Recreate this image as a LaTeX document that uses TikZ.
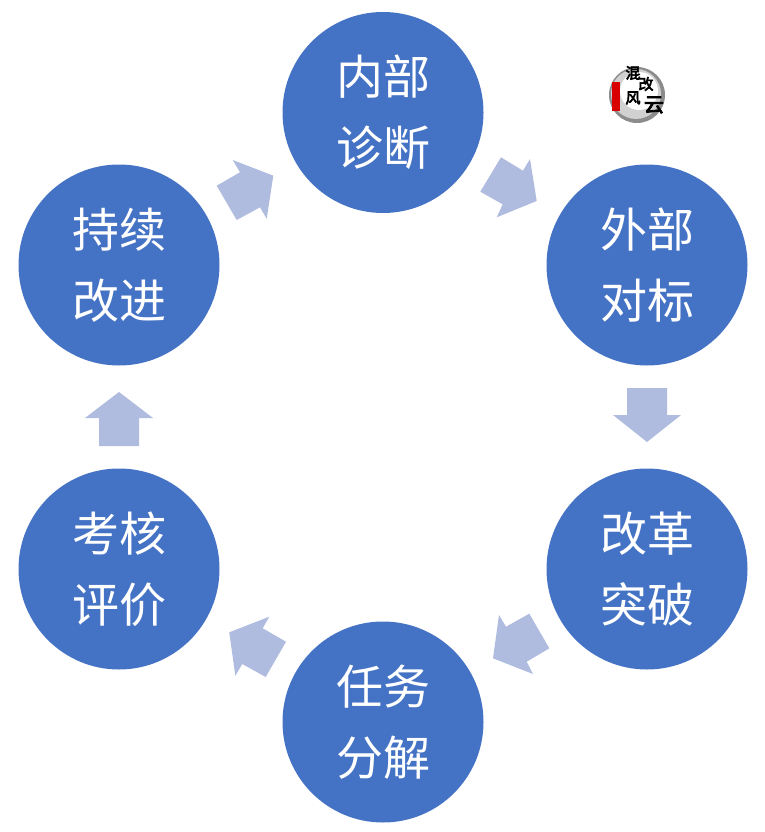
\documentclass[tikz,border=0pt]{standalone}
\usepackage{fontspec}
\newfontfamily\cjk{Noto Sans CJK SC}
\newfontfamily\cjkb[FakeBold=4]{Noto Sans CJK SC}
\definecolor{disc}{HTML}{4472C4}
\definecolor{flow}{HTML}{B0BCDF}
\tikzset{
  stage/.style={circle,fill=disc,draw=none,minimum size=201pt,inner sep=0pt,text=white,align=center,
    font=\cjk\fontsize{47}{71}\selectfont},
  flowarrow/.style={fill=flow,draw=none},
  logochar/.style={inner sep=0pt,text=black,font=\cjkb\fontsize{15}{15}\selectfont}
}
\begin{document}
\begin{tikzpicture}[x=1pt,y=-1pt]
\useasboundingbox (0,0) rectangle (765,832);
\fill[white] (0,0) rectangle (765,832);
% stages
\node[stage] (a) at (383,112.5) {内部\\诊断};
\node[stage] (b) at (647,265) {外部\\对标};
\node[stage] (c) at (647,569) {改革\\突破};
\node[stage] (d) at (383,722) {任务\\分解};
\node[stage] (e) at (119,569) {考核\\评价};
\node[stage] (f) at (119,265) {持续\\改进};
% block arrows
\fill[flowarrow] (536.7,201) -- (530,159) -- (523,170.7) -- (501,157.3) -- (480.3,191.7) -- (502.7,204.3) -- (496.7,217.3) -- cycle;
\fill[flowarrow] (647,442) -- (613,415) -- (627,415) -- (627,388) -- (667,388) -- (667,415) -- (681,415) -- cycle;
\fill[flowarrow] (493,658.3) -- (499,615) -- (506,626.7) -- (529.3,613.7) -- (549.3,648.3) -- (526.7,661.7) -- (533,674) -- cycle;
\fill[flowarrow] (229.3,632.3) -- (269.3,616.7) -- (262.7,628.3) -- (286,641.7) -- (265.7,677) -- (242.3,664) -- (235.3,675.7) -- cycle;
\fill[flowarrow] (119,392) -- (153,418) -- (139,418) -- (139,446) -- (99,446) -- (99,418) -- (85,418) -- cycle;
\fill[flowarrow] (273.3,175.7) -- (232.7,160) -- (240,172.3) -- (216.7,185.7) -- (236.7,220) -- (260,207.3) -- (266.7,218.7) -- cycle;
% logo
\fill[black!45] (637,95) circle (28);
\fill[black!18] (636,94) circle (25);
\fill[white] (639,91) circle (19);
\fill[red!85!black] (612,82) rectangle (620,111);
\node[logochar] (l1) at (633,73) {混};
\node[logochar] (l2) at (646,84) {改};
\node[logochar] (l3) at (633,98) {风};
\node[logochar,font=\cjkb\fontsize{20}{20}\selectfont] (l4) at (654,105) {云};
\end{tikzpicture}
\end{document}
